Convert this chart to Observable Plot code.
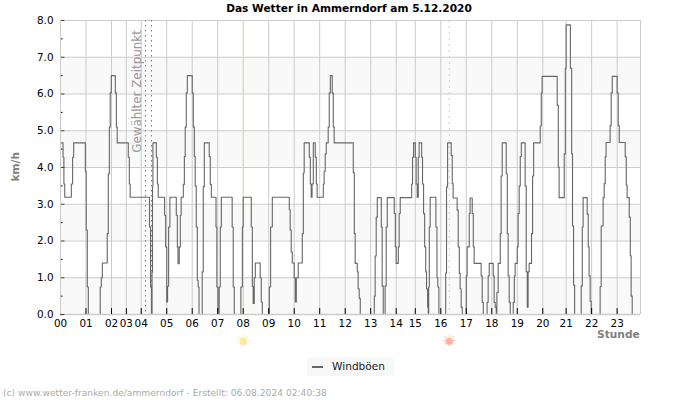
<!DOCTYPE html>
<html><head><meta charset="utf-8">
<script src="https://cdn.jsdelivr.net/npm/d3@7"></script>
<script src="https://cdn.jsdelivr.net/npm/@observablehq/plot@0.6"></script>
<style>
html,body{margin:0;padding:0;background:#fff;font-family:"DejaVu Sans",sans-serif}
#wrap{position:relative;width:700px;height:400px;overflow:hidden}
#wrap svg{position:absolute;left:0;top:0}
.t{position:absolute;white-space:nowrap;line-height:1}
</style></head><body>
<div id="wrap">
<div class="t" style="left:-1px;width:700px;top:3px;text-align:center;font-weight:bold;font-size:10.6px;color:#000;z-index:2">Das Wetter in Ammerndorf am 5.12.2020</div>
<div class="t" style="left:307px;top:357px;width:87px;height:19px;background:#f8f8f8;z-index:2"></div>
<div class="t" style="left:312px;top:366px;width:11px;height:2px;background:#666;z-index:3"></div>
<div class="t" style="left:332px;top:361px;font-size:10.6px;color:#222;z-index:3">Windböen</div>
<div class="t" style="left:3px;top:389px;font-size:9.15px;color:#aaa;z-index:2">(c) www.wetter-franken.de/ammerndorf - Erstellt: 06.08.2024 02:40:38</div>
</div>
<script>
const hourTicks = [0,12,24,31,38,50,62,74,86,98,110,122,134,146,158,167,179,191,203,215,227,238,250,262];
const hourLabels = ["00","01","02","03","04","05","06","07","08","09","10","11","12","13","14","15","16","17","18","19","20","21","22","23"];
const yMajor = [0,1,2,3,4,5,6,7,8];
const yMinor = [0.5,1.5,2.5,3.5,4.5,5.5,6.5,7.5];
const bandLow = [0,2,4,6];
const selectedSamples = [40,42.83];
const sunriseSample = [86];
const sunsetSample = [183];
const gustSample = [0,1.2,1.6,2.0,5.1,5.7,6.2,11.7,12.1,12.6,13.1,18.7,19.2,19.7,22.0,22.5,23.0,23.4,23.9,25.8,26.3,26.7,31.9,32.4,32.8,41.9,42.4,42.8,43.1,43.3,43.5,45.1,45.6,46.0,49.0,49.5,50.0,50.4,50.9,51.5,54.5,55.0,55.3,55.9,56.4,56.8,57.8,58.3,58.7,59.2,59.7,62.0,62.5,63.0,63.4,63.9,64.4,64.8,65.2,66.7,67.2,67.7,70.0,70.5,71.0,73.2,73.6,74.1,74.7,75.2,75.7,80.8,81.3,81.8,84.9,85.6,86.0,89.8,90.3,90.7,91.2,91.7,94.0,94.5,95.0,98.3,98.9,99.7,107.7,108.1,108.6,109.1,110.0,110.5,111.0,111.9,113.8,114.3,114.7,117.1,117.6,118.0,118.4,119.0,119.9,120.4,120.8,123.7,124.1,124.6,125.1,126.0,126.5,127.0,127.9,128.4,128.8,137.8,138.3,138.7,139.7,140.1,140.6,141.1,147.7,148.1,148.6,149.1,151.0,151.4,151.9,152.8,153.3,153.8,157.1,157.6,158.0,159.0,159.4,159.9,165.3,165.7,166.2,167.0,167.4,167.9,168.4,168.8,170.0,170.4,170.9,171.4,171.9,172.3,172.8,173.1,173.3,173.6,174.0,176.7,177.2,177.6,178.1,181.3,181.7,182.2,183.9,184.4,184.8,186.7,187.2,187.7,188.1,188.6,189.1,191.0,191.4,192.4,192.8,193.8,194.3,194.7,198.0,198.5,199.0,200.8,201.3,201.8,203.7,204.1,204.6,205.1,205.4,206.0,207.0,207.4,207.9,209.8,210.3,210.7,211.2,211.7,213.1,213.6,214.0,215.0,215.4,215.9,216.4,216.9,218.7,219.2,219.7,220.1,220.6,221.7,222.2,222.7,225.8,226.3,226.7,233.8,234.3,234.7,237.1,237.6,238.0,240.0,240.6,241.0,241.5,242.0,245.1,245.6,246.0,247.9,248.4,248.8,249.3,249.8,254.0,254.5,255.4,255.9,256.4,256.8,258.7,259.2,259.7,262.0,262.5,263.0,265.8,266.3,266.7,267.7,268.2,268.6,269.1,270];
const gustValue = [4.67,4.28,3.55,3.19,3.55,4.28,4.67,3.9,2.3,0.75,0,0.75,1.0,1.4,2.2,3.83,5.1,6.03,6.5,6.03,5.1,4.67,4.28,3.55,3.19,2.38,0.75,0,1.15,3.47,4.67,4.28,3.55,3.19,2.7,1.84,0.34,0.77,2.38,3.19,2.7,1.84,1.38,1.84,2.7,3.19,3.54,4.3,5.1,6.03,6.5,6.03,5.1,4.3,3.5,2.38,0.93,0.75,0,1.16,3.48,4.67,4.3,3.54,3.19,2.38,0.75,0,0.75,2.38,3.19,2.38,0.75,0,0.75,2.38,3.19,2.38,0.77,0.3,1.0,1.4,1.0,0.34,0,0.75,2.38,3.19,2.85,2.3,1.7,1.4,1.0,0.34,1.0,1.4,2.2,3.85,4.67,4.28,3.55,3.19,3.55,4.67,4.28,3.55,3.19,3.55,3.9,4.37,4.67,5.1,6.03,6.5,6.03,5.1,4.67,3.86,2.2,1.39,1.16,0.7,0.44,0,0.5,1.59,2.65,3.18,2.38,0.78,0,0.78,2.38,3.18,2.75,1.84,1.39,1.84,2.75,3.18,3.55,4.28,4.67,4.28,3.55,3.19,4.28,4.67,4.28,3.55,2.75,1.84,1.16,0.7,0.2,0,0.75,2.38,3.19,2.38,1.0,0.75,0,1.13,3.47,4.67,4.33,3.56,3.17,2.84,1.84,1.12,0.7,0.2,0,1.05,1.84,2.75,3.17,2.75,1.84,1.39,1.05,0.33,0,0.33,1.05,1.39,1.05,0.33,0.2,0,0.6,1.39,2.2,3.77,4.67,3.83,2.2,1.05,0.33,0,0.33,1.05,1.39,1.84,2.75,3.5,4.3,4.67,3.5,1.16,0.2,1.16,1.39,2.2,3.77,4.67,5.13,6.03,6.48,5.69,4.01,3.18,4.37,6.7,7.88,6.7,4.37,2.41,0.8,0,0.78,2.38,3.18,2.73,1.84,1.05,0.36,0,0.76,2.41,3.18,3.56,4.29,4.68,5.14,6.03,6.48,6.03,5.14,4.68,4.29,3.52,3.18,2.65,1.6,0.5,0,0];

const font = '"DejaVu Sans", sans-serif';
const chart = Plot.plot({
  width:700, height:400,
  marginTop:20, marginBottom:86, marginLeft:60, marginRight:60,
  style:{fontFamily:font, fontSize:"10.6px", background:"transparent", overflow:"visible"},
  x:{domain:[0,273], label:null},
  y:{domain:[0,8], label:null},
  marks:[
    Plot.rectY(bandLow,{x1:0,x2:273,y1:d=>d,y2:d=>d+1,fill:"#f9f9f9"}),
    Plot.ruleY(yMajor,{stroke:"#ccc",strokeWidth:1}),
    Plot.ruleX(hourTicks,{stroke:"#ccc",strokeWidth:1}),
    Plot.ruleX(selectedSamples,{stroke:"#777",strokeWidth:1,strokeDasharray:"1.5,3.5"}),
    Plot.ruleX(sunriseSample,{stroke:"#f4e27a",strokeWidth:1,strokeDasharray:"2,2"}),
    Plot.ruleX(sunsetSample,{stroke:"#f5c98a",strokeWidth:1,strokeDasharray:"2,4"}),
    Plot.text(["Gewählter Zeitpunkt"],{x:36.3,y:4.4,rotate:-90,textAnchor:"start",fill:"#999",fontSize:11.9}),
    Plot.line(gustValue,{x:(d,i)=>gustSample[i],y:d=>d,curve:"step-after",stroke:"#666",strokeWidth:1.1}),
    Plot.ruleY([0],{stroke:"#ccc",strokeWidth:1.6}),
    Plot.ruleX(hourTicks,{y1:0,y2:0.16,stroke:"#000",strokeWidth:1}),
    Plot.ruleY(yMajor,{x1:0,x2:2.1,stroke:"#444",strokeWidth:1}),
    Plot.ruleY(yMinor,{x1:0,x2:1.2,stroke:"#000",strokeWidth:1}),
    Plot.ruleX([0,273],{stroke:"#ccc",strokeWidth:1}),
    Plot.axisX({ticks:hourTicks,tickSize:0,tickPadding:5,tickFormat:d=>hourLabels[hourTicks.indexOf(d)],fill:"#000",fontSize:10.4,label:null}),
    Plot.axisY({ticks:yMajor,tickSize:0,tickPadding:7,tickFormat:d=>d.toFixed(1),fill:"#000",fontSize:10.4,label:null}),
    Plot.dot(sunriseSample,{x:d=>d,y:()=>-0.73,r:3.6,fill:"#ffe8a0"}),
    Plot.dot(sunsetSample,{x:d=>d,y:()=>-0.73,r:3.6,fill:"#ffb3a0"}),
    Plot.text(["☀"],{x:sunriseSample,y:[-0.73],fill:"#ffe8a0",fontSize:16}),
    Plot.text(["☀"],{x:sunsetSample,y:[-0.73],fill:"#ffb3a0",fontSize:16}),
    Plot.text(["km/h"],{x:-21,y:4.02,rotate:-90,fill:"#808080",fontWeight:"bold",fontSize:10.6}),
    Plot.text(["Stunde"],{x:272.6,y:-0.55,textAnchor:"end",fill:"#808080",fontWeight:"bold",fontSize:10.6})
  ]
});
document.getElementById("wrap").appendChild(chart);
</script>
</body></html>
